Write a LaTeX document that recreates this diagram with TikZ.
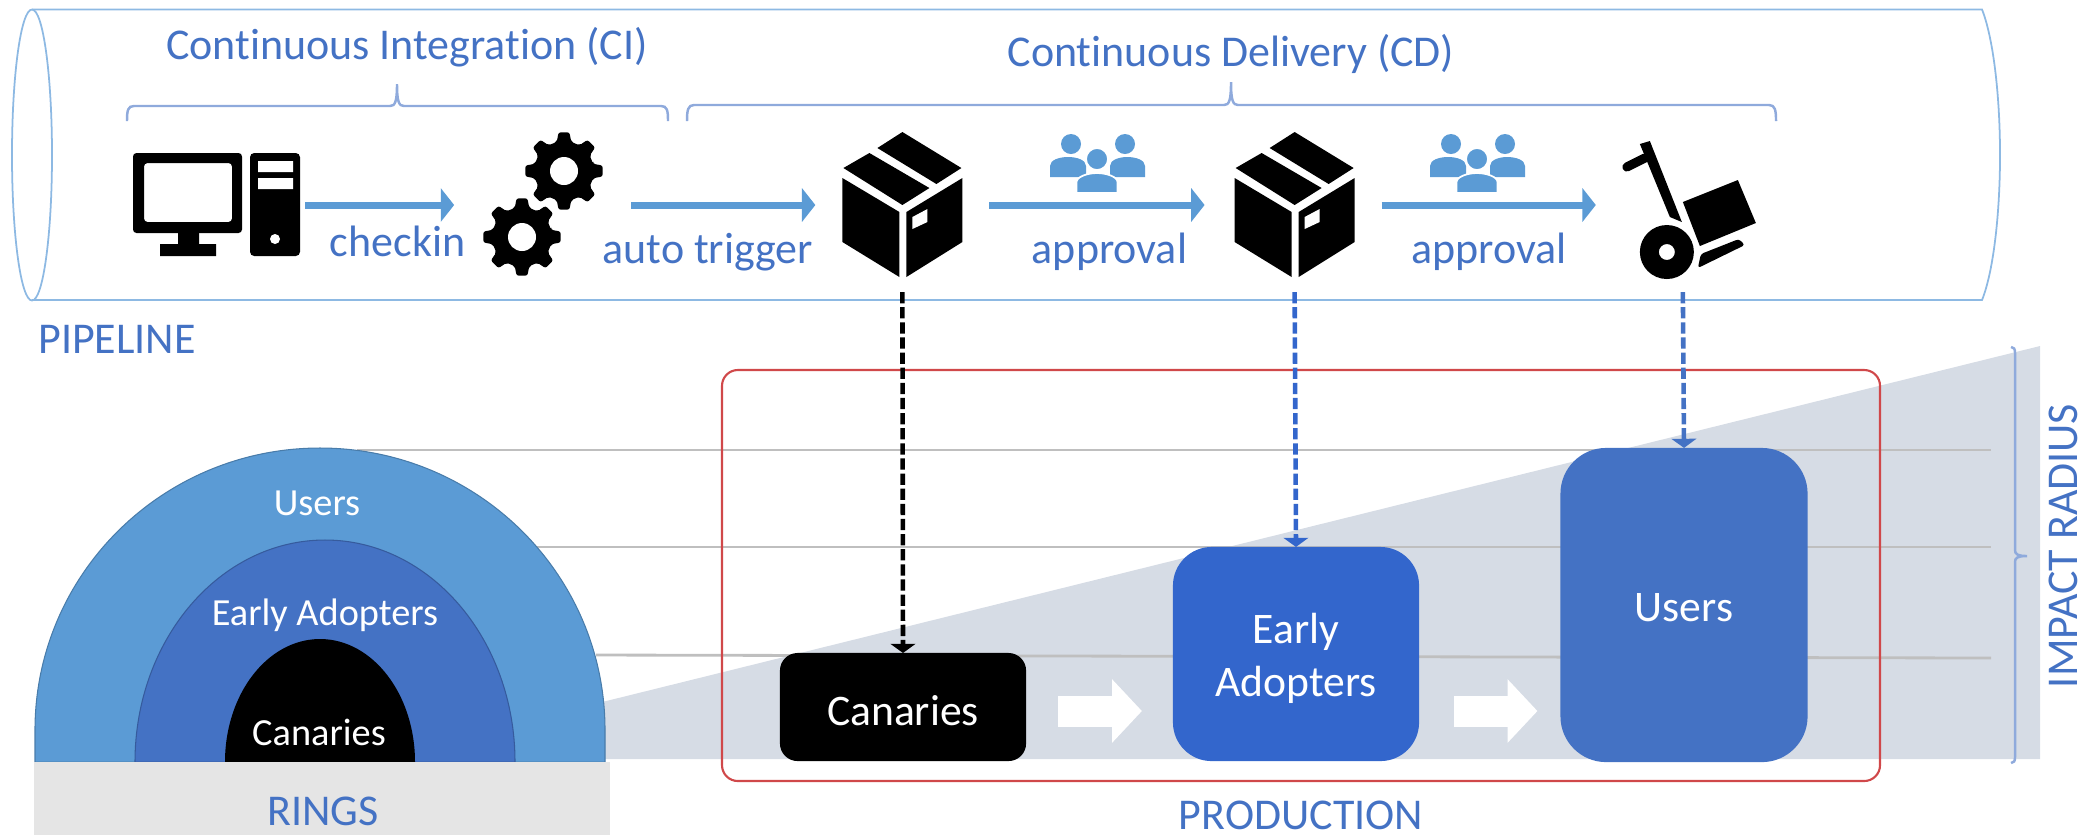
\documentclass[tikz,border=0pt]{standalone}
\usepackage{fontspec}
\setmainfont{Carlito}[Ligatures=NoCommon]
\usetikzlibrary{arrows.meta, positioning}
\definecolor{inkblue}{HTML}{4472C4}
\definecolor{skyblue}{HTML}{5B9BD5}
\definecolor{royal}{HTML}{3366CC}
\definecolor{tubeline}{HTML}{8DB9E3}
\definecolor{bracketline}{HTML}{8FAADC}
\definecolor{wedgegrey}{HTML}{D6DCE5}
\definecolor{frame}{HTML}{D0484A}
\tikzset{
    iconspot/.style={minimum width=1.74cm, minimum height=1.74cm, inner sep=0pt, outer sep=0pt},
    flow/.style={skyblue, line width=2pt, -{Triangle[length=3.8pt,width=9.4pt]}},
    dropline/.style={line width=1.3pt, dash pattern=on 3.2pt off 1.1pt, -{Triangle[length=2.6pt,width=7pt]}},
    blockflow/.style={white, line width=8.8pt, -{Triangle[length=8.5pt,width=17.6pt]}},
    caption/.style={text=inkblue, anchor=base, inner sep=0pt, font=\fontsize{12.5}{15}\selectfont},
    ringtext/.style={text=white, anchor=base, font=\fontsize{10.9}{13}\selectfont},
    stage/.style={inner sep=0pt, outer sep=0pt},
    stagetext/.style={text=white, align=center, font=\fontsize{12.4}{15}\selectfont},
    bracket/.style={bracketline, line width=.7pt},
    ringedge/.style={draw=#1!80!black, line width=.3pt},
    level/.style={gray!50, line width=.8pt},
    gearwheel/.pic={
        \fill[rounded corners=.6pt] (-14:30) \foreach \a in {0,45,...,315} {
            -- ({\a-14}:30) -- ({\a-8}:39) -- ({\a+8}:39) -- ({\a+14}:30)} -- cycle;
        \fill[white] (0,0) circle [radius=14];
    },
    parcel/.pic={
        \fill (0,-73) -- (59,-37) -- (34,-21) -- (-25,-57) -- cycle;
        \fill (-33,-52) -- (27,-17) -- (0,0) -- (-59,-37) -- cycle;
        \fill (-60,-27) -- (-3,7) -- (-3,72) -- (-60,37) -- cycle;
        \fill (4,7) -- (60,-27) -- (60,37) -- (4,72) -- cycle;
        \fill[white] (10,12) -- (25,4) -- (25,17) -- (10,24) -- cycle;
    },
    team/.pic={
        \fill[skyblue] (-26,-26) circle [radius=10] (28,-26) circle [radius=10];
        \fill[skyblue] (-47,7) -- (-47,-4) .. controls (-47,-10) and (-38,-13) .. (-29,-13) .. controls (-20,-13) and (-11,-10) .. (-11,-4) -- (-11,7) -- cycle;
        \fill[skyblue] (13,7) -- (13,-4) .. controls (13,-10) and (22,-13) .. (30,-13) .. controls (39,-13) and (48,-10) .. (48,-4) -- (48,7) -- cycle;
        \filldraw[skyblue, draw=white, line width=.5pt] (-20.5,23) -- (-20.5,12) .. controls (-20.5,7) and (-10,3) .. (0,3) .. controls (10,3) and (20.5,7) .. (20.5,12) -- (20.5,23) -- cycle;
        \filldraw[skyblue, draw=white, line width=.5pt] (0,-11) circle [radius=11];
    },
}

\begin{document}
\begin{tikzpicture}[x=.01cm, y=-.01cm]
    \useasboundingbox (0,0) rectangle (2089,835);

    \draw[tubeline, line width=.5pt] (32,9.5) -- (1982,9.5) .. controls (1994,40) and (2000,100) .. (2000,155)
        .. controls (2000,210) and (1994,270) .. (1982,300) -- (32,300);
    \draw[tubeline, line width=.5pt] (32,155) ellipse [x radius=20, y radius=145.5];

    \node[caption] (ci) at (407,59.5) {Continuous Integration (CI)};
    \node[caption] (cd) at (1231,66.5) {Continuous Delivery (CD)};
    \node[caption] (pipeline) at (117,353.5) {PIPELINE};
    \draw[bracket] (127,121) .. controls (127,110) and (128,106) .. (134,106) -- (390,106)
        .. controls (395,106) and (397,102) .. (397,84) .. controls (397,102) and (399,106) .. (404,106)
        -- (661,106) .. controls (667,106) and (668,110) .. (668,121);
    \draw[bracket] (687,121) .. controls (687,110) and (688,105) .. (694,105) -- (1224,105)
        .. controls (1229,105) and (1231,101) .. (1231,82) .. controls (1231,101) and (1233,105) .. (1238,105)
        -- (1769,105) .. controls (1775,105) and (1776,110) .. (1776,121);

    \node[iconspot] (desktop) at (218,205) {};
    \node[iconspot, right=1.49cm of desktop] (gears) {};
    \node[iconspot, right=1.87cm of gears] (parcelA) {};
    \node[iconspot, right=2.18cm of parcelA] (parcelB) {};
    \node[iconspot, right=2.14cm of parcelB] (trolley) {};

    \begin{scope}[shift={(desktop)}]
        \fill[even odd rule, rounded corners=1pt] (-85,-52) rectangle (24,28) (-74,-42) rectangle (14,17);
        \fill (-40,28) rectangle (-19,40) (-58,39) rectangle (-2,51);
        \fill[rounded corners=1.2pt] (32,-52) rectangle (82,51);
        \fill[white] (40,-44) rectangle (75,-33) (40,-27) rectangle (75,-16) (57,34) circle [radius=5];
    \end{scope}
    \pic at (564,171) {gearwheel};
    \pic at (522,237) {gearwheel};
    \pic at (parcelA) {parcel};
    \pic at (parcelB) {parcel};
    \pic at (1097,170) {team};
    \pic at (1477,170) {team};
    \begin{scope}[shift={(trolley)}]
        \fill (-43,-61) -- (-33,-64) -- (-1,17) -- (-13,12) -- cycle;
        \draw[line width=2.6pt, line cap=round] (-56,-38) -- (-38,-47);
        \fill (0,-3) -- (55,-25) -- (73,18) -- (17,41) -- cycle;
        \fill[even odd rule] (-16,47) circle [radius=27] (-16,47) circle [radius=8];
        \fill[rounded corners=.8pt] (18,49) -- (56,34) -- (62,40) -- (15,63) -- cycle;
    \end{scope}

    \draw[flow] (desktop) -- node[caption, yshift=-.51cm, xshift=.18cm] (checkin) {checkin} (gears);
    \draw[flow, shorten <=.03cm] (gears) -- node[caption, yshift=-.58cm, xshift=-.14cm] (auto) {auto trigger} (parcelA);
    \draw[flow, shorten >=.03cm] (parcelA) -- node[caption, yshift=-.58cm, xshift=.11cm] (approvalA) {approval} (parcelB);
    \draw[flow] (parcelB) -- node[caption, yshift=-.58cm] (approvalB) {approval} (trolley);

    \fill[wedgegrey] (372,759) -- (2040,346) -- (2040,759) -- cycle;
    \draw[level] (357,450) -- (1991,450);
    \draw[level] (536,547) -- (1991,547);
    \draw[level] (596,655) -- (1991,658);

    \draw[frame, line width=.6pt, rounded corners=4.5pt] (722,370) rectangle (1880,781);
    \node[caption] (production) at (1301,829) {PRODUCTION};

    \draw[bracket] (2011,347) .. controls (2014,347) and (2015,349) .. (2015,353) -- (2015,550)
        .. controls (2015,554) and (2017,556) .. (2027,556) .. controls (2017,556) and (2015,558) .. (2015,562)
        -- (2015,757) .. controls (2015,761) and (2014,763) .. (2011,763);
    \node[caption, rotate=90] (radius) at (2077,546) {IMPACT RADIUS};

    \filldraw[fill=skyblue, ringedge=skyblue] (35,762) -- (35,730) arc [start angle=180, end angle=360, x radius=285, y radius=282] -- (605,762) -- cycle;
    \filldraw[fill=inkblue, ringedge=inkblue] (135,762) arc [start angle=180, end angle=360, x radius=190, y radius=222] -- cycle;
    \fill (225,762) arc [start angle=180, end angle=360, x radius=95, y radius=123] -- cycle;
    \fill[gray!20] (34,762) rectangle (610,835);
    \node[ringtext] (ringusers) at (317,515.5) {Users};
    \node[ringtext] (ringearly) at (325,625.5) {Early Adopters};
    \node[ringtext] (ringcanaries) at (319,745.5) {Canaries};
    \node[caption] (rings) at (323,825.5) {RINGS};

    \node[stage, fill=black, rounded corners=5pt, minimum width=2.46cm, minimum height=1.08cm] (canaries) at (903,707) {};
    \node[stage, fill=royal, rounded corners=11pt, minimum width=2.46cm, minimum height=2.14cm] (earlyad) at (1296,654) {};
    \node[stage, fill=inkblue, rounded corners=13pt, minimum width=2.47cm, minimum height=3.14cm] (users) at (1684,605) {};
    \node[stagetext, anchor=base] (canariestext) at (903,725) {Canaries};
    \node[stagetext] (earlytext) at (1296,658) {Early\\Adopters};
    \node[stagetext, anchor=base] (userstext) at (1684,621) {Users};

    \draw[dropline, black] (parcelA.south) -- (canaries.north);
    \draw[dropline, royal] (parcelB.south) -- (earlyad.north);
    \draw[dropline, inkblue] (trolley.south) -- (users.north);

    \coordinate (lane) at (0,711);
    \draw[blockflow, shorten <=.32cm, shorten >=.31cm] (canaries.east |- lane) -- (earlyad.west |- lane);
    \draw[blockflow, shorten <=.35cm, shorten >=.23cm] (earlyad.east |- lane) -- (users.west |- lane);
\end{tikzpicture}
\end{document}
